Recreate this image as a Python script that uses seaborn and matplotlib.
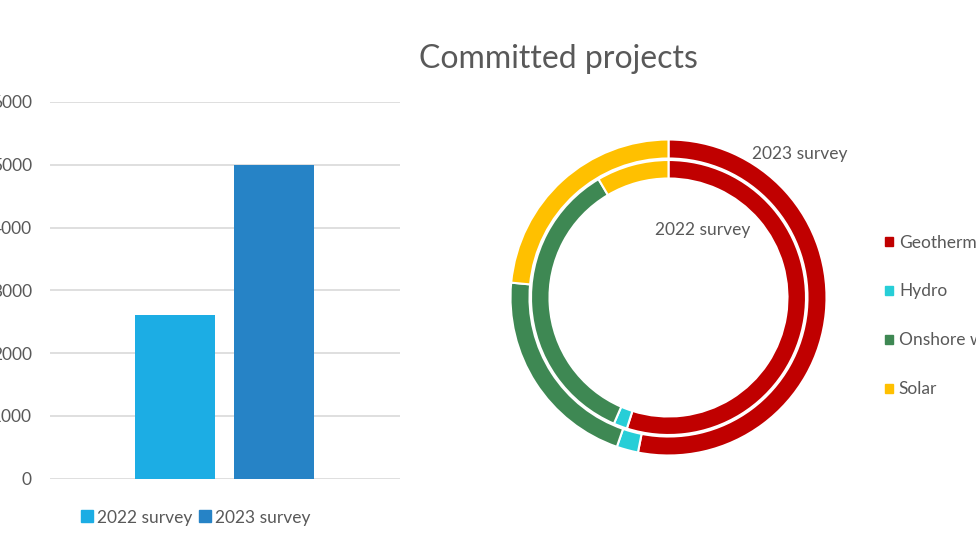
import matplotlib
matplotlib.use("Agg")
import matplotlib.pyplot as plt
from matplotlib.patches import Patch
import pandas as pd
import seaborn as sns

surveys = ["2022 survey", "2023 survey"]
capacity = [2605, 5000]
y_ticks = [0, 1000, 2000, 3000, 4000, 5000, 6000]

technologies = ["Geothermal", "Hydro", "Onshore wind", "Solar"]
share_2023 = [53.1, 2.2, 21.2, 23.5]
share_2022 = [54.9, 1.6, 35.0, 8.5]

bar_colors = ["#1CADE4", "#2683C6"]
tech_colors = ["#C00000", "#27CED7", "#3E8853", "#FFC000"]
text_color = "#595959"
W, H = 976, 548


def px_axes(fig, left, top, right, bottom):
    # axes placed by pixel box, y measured from the top of the picture
    return fig.add_axes([left / W, 1 - bottom / H, (right - left) / W, (bottom - top) / H])


sns.set_theme(style="white")
plt.rcParams["font.family"] = ["Lato", "DejaVu Sans"]

fig = plt.figure(figsize=(W / 100, H / 100), dpi=100, facecolor="white")

# bars
ax = px_axes(fig, 50, 102, 400, 478.5)
df = pd.DataFrame({"group": [""] * 2, "survey": surveys, "capacity": capacity})
sns.barplot(data=df, x="group", y="capacity", hue="survey", palette=bar_colors, saturation=1,
            width=0.566, gap=0.192, linewidth=0, ax=ax, legend=False, zorder=3)
ax.set_xlim(-0.4986, 0.5014)
ax.set_ylim(0, 6000)
ax.set_yticks(y_ticks)
ax.set_xlabel("")
ax.set_ylabel("")
ax.set_xticks([])
ax.grid(axis="y", color="#D9D9D9", linewidth=1.2, zorder=0)
ax.set_axisbelow(True)
sns.despine(ax=ax, left=True, bottom=True, top=True, right=True)
ax.tick_params(axis="y", length=0, pad=13, labelsize=12.5, labelcolor=text_color)

fig.legend(handles=[Patch(color=c, label=s) for c, s in zip(bar_colors, surveys)],
           loc="center left", bbox_to_anchor=(81 / W, 1 - 517.5 / H), ncol=2, frameon=False,
           fontsize=12.5, labelcolor=text_color, handlelength=0.69, handleheight=0.69,
           handletextpad=0.22, columnspacing=0.4, borderpad=0, borderaxespad=0)

# rings
cx, cy, pad = 668.5, 297.5, 170
ring = px_axes(fig, cx - pad, cy - pad, cx + pad, cy + pad)
ring.pie(share_2023, colors=tech_colors, radius=158, startangle=90, counterclock=False,
         wedgeprops=dict(width=19, edgecolor="white", linewidth=1.5))
ring.pie(share_2022, colors=tech_colors, radius=137.5, startangle=90, counterclock=False,
         wedgeprops=dict(width=18.5, edgecolor="white", linewidth=1.5))
ring.set_xlim(-pad, pad)
ring.set_ylim(-pad, pad)

fig.text(419 / W, 1 - 59 / H, "Committed projects", fontsize=23, color=text_color, va="center")
fig.text(752 / W, 1 - 154 / H, "2023 survey", fontsize=12.5, color=text_color, va="center")
fig.text(655 / W, 1 - 230 / H, "2022 survey", fontsize=12.5, color=text_color, va="center")

fig.legend(handles=[Patch(color=c, label=t) for c, t in zip(tech_colors, technologies)],
           loc="upper left", bbox_to_anchor=(885 / W, 1 - 234.5 / H), frameon=False,
           fontsize=12.5, labelcolor=text_color, handlelength=0.45, handleheight=0.45,
           handletextpad=0.35, labelspacing=1.9, borderpad=0, borderaxespad=0)

fig.savefig("out.png", dpi=100)
